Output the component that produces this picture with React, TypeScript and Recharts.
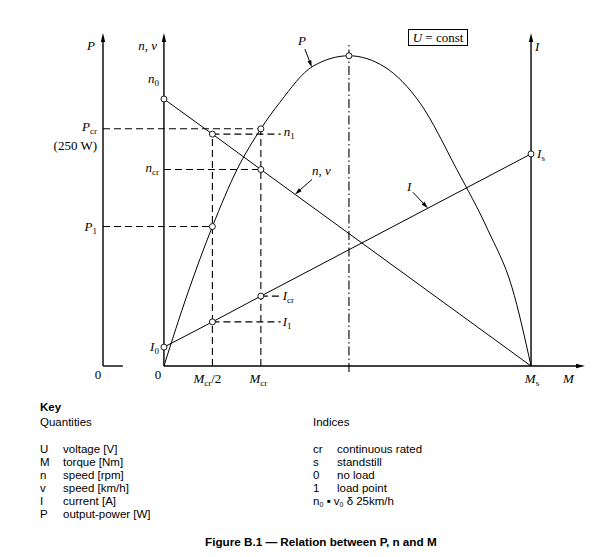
import React from 'react';
import { ComposedChart, Line, XAxis, YAxis, ReferenceLine, ReferenceDot } from 'recharts';

const SERIF = '"Liberation Serif", "Times New Roman", serif';
const SANS = '"Liberation Sans", Arial, sans-serif';

// torque axis in relative units (Ms = 100)
const Ms = 100;
const Mcr = 26.4;
const McrHalf = 13.2;
const Mpeak = 50.4;
const xMin = -16.6; // P axis position
const xMax = 114.7; // arrow tip of M axis
const leaderEnd = 31.8; // end of dashed leaders to n1 / Icr / I1

// output power P(M) in W
const powerTorque = [0, 6.5, 13.2, 19.9, 26.4, 31.6, 40.6, 50.4, 60.2, 69.8, 79.8, 88.3, 94.8, 100];
const powerW = [0, 77, 147, 207, 250, 278, 316, 327, 315, 277, 207, 143, 83, 0];

// n(M) and I(M), relative units
const lineTorque = [0, 13.2, 26.4, 100];
const speed = [89, 77.3, 65.5, 0];
const current = [6.3, 14.7, 23.3, 70.7];

const xTicks = [0, McrHalf, Mcr, Ms];
const xTickLabels = [
  { main: '0', sub: '', after: '', dx: -6, dy: 12.5, italic: false },
  { main: 'M', sub: 'cr', after: '/2', dx: -5, dy: 17, italic: true },
  { main: 'M', sub: 'cr', after: '', dx: -2.5, dy: 17, italic: true },
  { main: 'M', sub: 's', after: '', dx: 1, dy: 17, italic: true },
];

const pData = powerTorque.map((M, i) => ({ M, P: powerW[i] }));
const nData = lineTorque.map((M, i) => ({ M, n: speed[i] }));
const iData = lineTorque.map((M, i) => ({ M, I: current[i] }));

const Sym = ({ x, y, main, sub, after, anchor = 'start', italic = true, size = 13 }: any) => (
  <text x={x} y={y} textAnchor={anchor} fontFamily={SERIF} fontSize={size} fill="#000">
    <tspan fontStyle={italic ? 'italic' : 'normal'}>{main}</tspan>
    {sub ? <tspan fontSize={9} dy={3}>{sub}</tspan> : null}
    {after ? <tspan dy={sub ? -3 : 0}>{after}</tspan> : null}
  </text>
);

const head = (x1: number, y1: number, x2: number, y2: number, L = 9, W = 2.2, sw = 1.4) => {
  const len = Math.hypot(x2 - x1, y2 - y1);
  const ux = (x2 - x1) / len;
  const uy = (y2 - y1) / len;
  const bx = x2 - ux * L;
  const by = y2 - uy * L;
  return (
    <g>
      <line x1={x1} y1={y1} x2={bx} y2={by} stroke="#000" strokeWidth={sw} />
      <polygon points={`${x2},${y2} ${bx - uy * W},${by + ux * W} ${bx + uy * W},${by - ux * W}`} fill="#000" />
    </g>
  );
};

const arrowAxis = (p: any) => head(p.x1, p.y1, p.x2, p.y2);

const note = (render: (cx: number, cy: number) => React.ReactNode) => (p: any) => <g>{render(p.cx, p.cy)}</g>;

const XTick = (props: any) => {
  const { x, y, payload } = props;
  const t = xTickLabels[xTicks.indexOf(payload.value)];
  if (!t) return null;
  return <Sym x={x + t.dx} y={y + t.dy} main={t.main} sub={t.sub} after={t.after} anchor="middle" italic={t.italic} />;
};

const PTick = (props: any) => {
  const { x, y, payload } = props;
  if (payload.value === 0) return <Sym x={x - 5} y={y + 12.5} main="0" anchor="middle" italic={false} />;
  if (payload.value === powerW[4])
    return (
      <g>
        <Sym x={x - 6} y={y + 2} main="P" sub="cr" anchor="end" />
        <Sym x={x - 6} y={y + 21} main="(250 W)" anchor="end" italic={false} />
      </g>
    );
  return <Sym x={x - 6} y={y + 4} main="P" sub="1" anchor="end" />;
};

const dash = { stroke: '#000', strokeWidth: 1.1, strokeDasharray: '7 4', ifOverflow: 'visible' as const };
const dot = { r: 3, fill: '#fff', stroke: '#000', strokeWidth: 0.9, ifOverflow: 'visible' as const };

export default function App() {
  return (
    <div style={{ position: 'absolute', left: 0, top: 0, width: 597, height: 557, background: '#fff' }}>
      <ComposedChart width={597} height={400} margin={{ top: 33, right: 12, left: 0, bottom: 0 }}>
        <XAxis
          type="number"
          dataKey="M"
          domain={[xMin, xMax]}
          allowDataOverflow
          ticks={xTicks}
          interval={0}
          axisLine={false}
          tickLine={false}
          tickSize={0}
          tickMargin={0}
          height={34}
          tick={<XTick />}
        />
        <YAxis
          yAxisId="P"
          type="number"
          domain={[0, 351]}
          allowDataOverflow
          ticks={[0, powerW[2], powerW[4]]}
          interval={0}
          width={103}
          axisLine={false}
          tickLine={false}
          tickSize={0}
          tickMargin={0}
          tick={<PTick />}
        />
        <YAxis yAxisId="nI" orientation="right" type="number" domain={[0, 111]} allowDataOverflow hide />

        {/* axes */}
        <ReferenceLine yAxisId="nI" segment={[{ x: xMin, y: 0 }, { x: xMin, y: 111 }]} ifOverflow="visible" shape={arrowAxis} />
        <ReferenceLine yAxisId="nI" segment={[{ x: xMin, y: 0 }, { x: xMin + 5.4, y: 0 }]} ifOverflow="visible" stroke="#000" strokeWidth={1.4} />
        <ReferenceLine yAxisId="nI" segment={[{ x: 0, y: 0 }, { x: 0, y: 111 }]} ifOverflow="visible" shape={arrowAxis} />
        <ReferenceLine yAxisId="nI" segment={[{ x: 0, y: 0 }, { x: xMax, y: 0 }]} ifOverflow="visible" shape={arrowAxis} />
        <ReferenceLine yAxisId="nI" segment={[{ x: Ms, y: 0 }, { x: Ms, y: 111 }]} ifOverflow="visible" shape={arrowAxis} />

        {/* dashed construction lines */}
        <ReferenceLine yAxisId="P" segment={[{ x: xMin, y: powerW[4] }, { x: Mcr, y: powerW[4] }]} {...dash} />
        <ReferenceLine yAxisId="P" segment={[{ x: xMin, y: powerW[2] }, { x: McrHalf, y: powerW[2] }]} {...dash} />
        <ReferenceLine yAxisId="P" segment={[{ x: Mcr, y: 0 }, { x: Mcr, y: powerW[4] }]} {...dash} />
        <ReferenceLine yAxisId="nI" segment={[{ x: McrHalf, y: 0 }, { x: McrHalf, y: speed[1] }]} {...dash} />
        <ReferenceLine yAxisId="nI" segment={[{ x: McrHalf, y: speed[1] }, { x: leaderEnd, y: speed[1] }]} {...dash} />
        <ReferenceLine yAxisId="nI" segment={[{ x: 0, y: speed[2] }, { x: Mcr, y: speed[2] }]} {...dash} />
        <ReferenceLine yAxisId="nI" segment={[{ x: Mcr, y: current[2] }, { x: leaderEnd, y: current[2] }]} {...dash} />
        <ReferenceLine yAxisId="nI" segment={[{ x: McrHalf, y: current[1] }, { x: leaderEnd, y: current[1] }]} {...dash} />
        <ReferenceLine
          yAxisId="nI"
          segment={[{ x: Mpeak, y: -2 }, { x: Mpeak, y: 107 }]}
          ifOverflow="visible"
          stroke="#000"
          strokeWidth={1.1}
          strokeDasharray="9 3 1.5 3"
        />

        <Line yAxisId="P" data={pData} dataKey="P" type="monotone" stroke="#000" strokeWidth={1} dot={false} isAnimationActive={false} />
        <Line yAxisId="nI" data={nData} dataKey="n" type="linear" stroke="#000" strokeWidth={1} dot={false} isAnimationActive={false} />
        <Line yAxisId="nI" data={iData} dataKey="I" type="linear" stroke="#000" strokeWidth={1} dot={false} isAnimationActive={false} />

        {/* marked points */}
        {[2, 4, 7].map((i) => (
          <ReferenceDot key={'p' + i} yAxisId="P" x={powerTorque[i]} y={powerW[i]} {...dot} />
        ))}
        {[0, 1, 2].map((i) => (
          <ReferenceDot key={'n' + i} yAxisId="nI" x={lineTorque[i]} y={speed[i]} {...dot} />
        ))}
        {[0, 1, 2, 3].map((i) => (
          <ReferenceDot key={'i' + i} yAxisId="nI" x={lineTorque[i]} y={current[i]} {...dot} />
        ))}

        {/* axis titles and point labels */}
        <ReferenceDot yAxisId="nI" x={xMin} y={111} r={1} ifOverflow="visible" shape={note((cx, cy) => <Sym x={cx - 8} y={cy + 17} main="P" anchor="end" />)} />
        <ReferenceDot yAxisId="nI" x={0} y={111} r={1} ifOverflow="visible" shape={note((cx, cy) => <Sym x={cx - 7} y={cy + 17} main="n, v" anchor="end" />)} />
        <ReferenceDot yAxisId="nI" x={Ms} y={111} r={1} ifOverflow="visible" shape={note((cx, cy) => <Sym x={cx + 4} y={cy + 18} main="I" />)} />
        <ReferenceDot yAxisId="nI" x={xMax} y={0} r={1} ifOverflow="visible" shape={note((cx, cy) => <Sym x={cx - 22} y={cy + 17} main="M" />)} />
        <ReferenceDot yAxisId="nI" x={0} y={speed[0]} r={1} ifOverflow="visible" shape={note((cx, cy) => <Sym x={cx - 5} y={cy - 16} main="n" sub="0" anchor="end" />)} />
        <ReferenceDot yAxisId="nI" x={0} y={speed[2]} r={1} ifOverflow="visible" shape={note((cx, cy) => <Sym x={cx - 5} y={cy + 2} main="n" sub="cr" anchor="end" />)} />
        <ReferenceDot yAxisId="nI" x={0} y={current[0]} r={1} ifOverflow="visible" shape={note((cx, cy) => <Sym x={cx - 5} y={cy + 4} main="I" sub="0" anchor="end" />)} />
        <ReferenceDot yAxisId="nI" x={Ms} y={current[3]} r={1} ifOverflow="visible" shape={note((cx, cy) => <Sym x={cx + 6} y={cy + 4} main="I" sub="s" />)} />
        <ReferenceDot yAxisId="nI" x={leaderEnd} y={speed[1]} r={1} ifOverflow="visible" shape={note((cx, cy) => <Sym x={cx + 3} y={cy + 2} main="n" sub="1" />)} />
        <ReferenceDot yAxisId="nI" x={leaderEnd} y={current[2]} r={1} ifOverflow="visible" shape={note((cx, cy) => <Sym x={cx + 2} y={cy + 4} main="I" sub="cr" />)} />
        <ReferenceDot yAxisId="nI" x={leaderEnd} y={current[1]} r={1} ifOverflow="visible" shape={note((cx, cy) => <Sym x={cx + 2} y={cy + 4} main="I" sub="1" />)} />

        {/* curve callouts */}
        <ReferenceDot
          yAxisId="P"
          x={40.3}
          y={315}
          r={1}
          ifOverflow="visible"
          shape={note((cx, cy) => (
            <g>
              {head(cx - 7, cy - 18, cx, cy, 7, 2, 1)}
              <Sym x={cx - 14} y={cy - 22} main="P" />
            </g>
          ))}
        />
        <ReferenceDot
          yAxisId="nI"
          x={35.7}
          y={57.2}
          r={1}
          ifOverflow="visible"
          shape={note((cx, cy) => (
            <g>
              {head(cx + 17, cy - 15, cx, cy, 7, 2, 1)}
              <Sym x={cx + 17} y={cy - 19} main="n, v" />
            </g>
          ))}
        />
        <ReferenceDot
          yAxisId="nI"
          x={71.9}
          y={52.6}
          r={1}
          ifOverflow="visible"
          shape={note((cx, cy) => (
            <g>
              {head(cx - 15, cy - 16, cx, cy, 7, 2, 1)}
              <Sym x={cx - 21} y={cy - 17} main="I" />
            </g>
          ))}
        />
      </ComposedChart>

      <div
        style={{
          position: 'absolute',
          left: 408,
          top: 29,
          width: 58,
          height: 15,
          border: '1px solid #000',
          fontFamily: SERIF,
          fontSize: 13,
          lineHeight: '15px',
          textAlign: 'center',
        }}
      >
        <i>U</i> = const
      </div>

      <svg width={597} height={157} style={{ position: 'absolute', left: 0, top: 400 }}>
        <g fontFamily={SANS} fontSize={11.5} fill="#000">
          <text x={40} y={11} fontWeight="bold">Key</text>
          <text x={40} y={26}>Quantities</text>
          <text x={313} y={26}>Indices</text>
          {[
            ['U', 'voltage [V]'],
            ['M', 'torque [Nm]'],
            ['n', 'speed [rpm]'],
            ['v', 'speed [km/h]'],
            ['I', 'current [A]'],
            ['P', 'output-power [W]'],
          ].map(([s, d], i) => (
            <g key={s}>
              <text x={40} y={53 + i * 13}>{s}</text>
              <text x={63} y={53 + i * 13}>{d}</text>
            </g>
          ))}
          {[
            ['cr', 'continuous rated'],
            ['s', 'standstill'],
            ['0', 'no load'],
            ['1', 'load point'],
          ].map(([s, d], i) => (
            <g key={s}>
              <text x={313} y={53 + i * 13}>{s}</text>
              <text x={337} y={53 + i * 13}>{d}</text>
            </g>
          ))}
          <text x={313} y={105}>
            n<tspan fontSize={7} dy={2}>0</tspan>
            <tspan dy={-2}> ▪ v</tspan>
            <tspan fontSize={7} dy={2}>0</tspan>
            <tspan dy={-2}> δ 25km/h</tspan>
          </text>
          <text x={205} y={146} fontWeight="bold" fontSize={11.7}>Figure B.1 — Relation between P, n and M</text>
        </g>
      </svg>
    </div>
  );
}
